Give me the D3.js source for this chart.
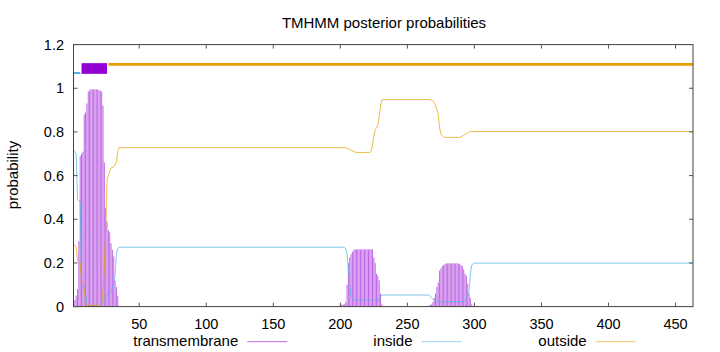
<!DOCTYPE html>
<html>
<head>
<meta charset="utf-8">
<script src="https://cdn.jsdelivr.net/npm/d3@7"></script>
<style>
body { margin: 0; background: #fff; }
svg { display: block; font-family: "Liberation Sans", Arial, sans-serif; }
</style>
</head>
<body>
<svg id="chart" width="720" height="352"></svg>
<script>
// posterior probability of transmembrane, one value per residue, starting at tmStarts[i]
const tmStarts = [1, 199, 266];
const tmProb1 = [0.02, 0.03, 0.05, 0.08, 0.30, 0.69, 0.70, 0.71, 0.88, 0.89, 0.93,
    0.985, 0.99, 0.995, 0.995, 0.995, 0.995, 0.995, 0.995, 0.99, 0.99, 0.985,
    0.92, 0.66, 0.45, 0.39, 0.35, 0.34, 0.29, 0.26, 0.23, 0.12, 0.09, 0.05];
const tmProb2 = [0.003, 0.005, 0.008, 0.01, 0.01, 0.02, 0.10, 0.20, 0.225, 0.24, 0.25, 0.26,
    0.262, 0.262, 0.262, 0.262, 0.262, 0.262, 0.262, 0.262, 0.262, 0.262, 0.262, 0.262, 0.262, 0.262,
    0.225, 0.20, 0.15, 0.14, 0.12, 0.06, 0.01];
const tmProb3 = [0.005, 0.008, 0.01, 0.02, 0.04, 0.06, 0.09, 0.11, 0.165, 0.175, 0.185, 0.19, 0.195,
    0.198, 0.198, 0.198, 0.198, 0.198, 0.198, 0.198, 0.198, 0.198, 0.198,
    0.195, 0.19, 0.185, 0.17, 0.15, 0.14, 0.105, 0.06, 0.04, 0.01];

// [residue, probability]
const insideProb = [
    [1, 0.715], [2, 0.71], [3, 0.70], [4, 0.49], [5, 0.485], [6, 0.48], [7, 0.09], [8, 0.088], [9, 0.085],
    [10, 0.06], [11, 0.01], [12, 0.005], [22, 0.005], [23, 0.02], [24, 0.035], [25, 0.045], [26, 0.05],
    [27, 0.055], [28, 0.06], [29, 0.07], [30, 0.085], [31, 0.11], [32, 0.14], [33, 0.24], [34, 0.265], [35, 0.272],
    [203, 0.272], [204, 0.265], [205, 0.24], [206, 0.175], [207, 0.10], [208, 0.05], [209, 0.04], [210, 0.03],
    [229, 0.03], [230, 0.045], [231, 0.053],
    [266, 0.053], [267, 0.048], [268, 0.04], [269, 0.035], [270, 0.03], [272, 0.025], [273, 0.023],
    [292, 0.023], [293, 0.03], [294, 0.035], [295, 0.05], [296, 0.07], [297, 0.15], [298, 0.19], [299, 0.196],
    [300, 0.199], [463, 0.199]
];
const outsideProb = [
    [1, 0.28], [2, 0.28], [3, 0.275], [4, 0.21], [5, 0.205], [6, 0.20], [7, 0.12], [8, 0.115], [9, 0.08],
    [10, 0.02], [11, 0.005], [21, 0.005], [22, 0.01], [23, 0.07], [24, 0.18], [25, 0.36], [26, 0.58],
    [27, 0.60], [28, 0.62], [29, 0.635], [31, 0.64], [32, 0.65], [33, 0.66], [34, 0.71], [35, 0.728],
    [204, 0.728], [206, 0.723], [208, 0.716], [210, 0.71], [212, 0.706], [222, 0.706], [223, 0.712],
    [224, 0.74], [225, 0.78], [226, 0.81], [227, 0.82], [228, 0.835], [229, 0.87], [230, 0.92], [231, 0.948],
    [266, 0.948], [268, 0.946], [269, 0.943], [270, 0.935], [271, 0.92], [272, 0.905], [273, 0.88],
    [274, 0.82], [275, 0.79], [276, 0.782], [277, 0.778], [278, 0.775], [289, 0.775], [290, 0.778],
    [292, 0.785], [294, 0.793], [296, 0.80], [297, 0.802], [463, 0.802]
];

// predicted topology
const topology = [
    { region: 'inside', from: 1, to: 6 },
    { region: 'TMhelix', from: 7, to: 26 },
    { region: 'outside', from: 27, to: 463 }
];

const xTicks = [50, 100, 150, 200, 250, 300, 350, 400, 450];
const yTicks = [0, 0.2, 0.4, 0.6, 0.8, 1, 1.2];
const legendNames = ['transmembrane', 'inside', 'outside'];

const colors = { TMhelix: '#9400d3', inside: '#56b4e9', outside: '#e69f00' };

const svg = d3.select('#chart');
const x = d3.scaleLinear().domain([1, 463]).range([73.5, 693]);
const y = d3.scaleLinear().domain([0, 1.2]).range([306.6, 44.6]);

// TM impulses
const tmData = [];
[tmProb1, tmProb2, tmProb3].forEach((vals, i) => {
    vals.forEach((v, j) => tmData.push({ r: tmStarts[i] + j, v: v }));
});

svg.append('g')
    .selectAll('line')
    .data(tmData)
    .enter()
    .append('line')
    .attr('x1', d => x(d.r))
    .attr('x2', d => x(d.r))
    .attr('y1', y(0))
    .attr('y2', d => y(d.v))
    .attr('stroke', colors.TMhelix)
    .attr('stroke-opacity', 0.6)
    .attr('stroke-width', 1);

const line = d3.line()
    .x(d => x(d[0]))
    .y(d => y(d[1]));

svg.append('path')
    .attr('d', line(insideProb))
    .attr('fill', 'none')
    .attr('stroke', colors.inside)
    .attr('stroke-opacity', 0.75)
    .attr('stroke-width', 1);

svg.append('path')
    .attr('d', line(outsideProb))
    .attr('fill', 'none')
    .attr('stroke', colors.outside)
    .attr('stroke-opacity', 0.7)
    .attr('stroke-width', 1);

// topology band
topology.forEach(seg => {
    if (seg.region === 'TMhelix') {
        svg.append('rect')
            .attr('x', x(seg.from))
            .attr('width', x(seg.to) - x(seg.from))
            .attr('y', y(1.115))
            .attr('height', y(1.066) - y(1.115))
            .attr('fill', colors.TMhelix);
    } else {
        const lev = seg.region === 'inside' ? 1.07 : 1.109;
        svg.append('line')
            .attr('x1', x(seg.from))
            .attr('x2', x(seg.to))
            .attr('y1', y(lev))
            .attr('y2', y(lev))
            .attr('stroke', colors[seg.region])
            .attr('stroke-width', seg.region === 'inside' ? 2 : 2.7);
    }
});

// border and ticks
const [x0, x1] = x.range();
const [y0, y1] = y.range();
svg.append('rect')
    .attr('x', x0).attr('y', y1)
    .attr('width', x1 - x0).attr('height', y0 - y1)
    .attr('fill', 'none')
    .attr('stroke', '#404040')
    .attr('stroke-width', 1);

const tickLen = 4;
const ticks = svg.append('g').attr('stroke', '#555').attr('stroke-width', 1);
xTicks.forEach(t => {
    ticks.append('line').attr('x1', x(t)).attr('x2', x(t)).attr('y1', y0).attr('y2', y0 - tickLen);
    ticks.append('line').attr('x1', x(t)).attr('x2', x(t)).attr('y1', y1).attr('y2', y1 + tickLen);
});
yTicks.forEach(t => {
    ticks.append('line').attr('x1', x0).attr('x2', x0 + tickLen).attr('y1', y(t)).attr('y2', y(t));
    ticks.append('line').attr('x1', x1).attr('x2', x1 - tickLen).attr('y1', y(t)).attr('y2', y(t));
});

svg.append('g')
    .selectAll('text')
    .data(xTicks)
    .enter()
    .append('text')
    .attr('x', d => x(d))
    .attr('y', 328.5)
    .attr('text-anchor', 'middle')
    .attr('font-size', 14.5)
    .text(d => d);

svg.append('g')
    .selectAll('text')
    .data(yTicks)
    .enter()
    .append('text')
    .attr('x', 64)
    .attr('y', d => y(d) + 5)
    .attr('text-anchor', 'end')
    .attr('font-size', 14.5)
    .text(d => d);

svg.append('text')
    .attr('x', 384)
    .attr('y', 27.5)
    .attr('text-anchor', 'middle')
    .attr('font-size', 15)
    .text('TMHMM posterior probabilities');

svg.append('text')
    .attr('transform', 'translate(17.5,175) rotate(-90)')
    .attr('text-anchor', 'middle')
    .attr('font-size', 15)
    .text('probability');

// legend
const legendColors = [colors.TMhelix, colors.inside, colors.outside];
legendNames.forEach((name, i) => {
    const right = 238.3 + i * 174.2;
    svg.append('text')
        .attr('x', right)
        .attr('y', 346)
        .attr('text-anchor', 'end')
        .attr('font-size', 15)
        .text(name);
    svg.append('line')
        .attr('x1', right + 9)
        .attr('x2', right + 49)
        .attr('y1', 341.7)
        .attr('y2', 341.7)
        .attr('stroke', legendColors[i])
        .attr('stroke-opacity', 0.6)
        .attr('stroke-width', 1);
});
</script>
</body>
</html>
